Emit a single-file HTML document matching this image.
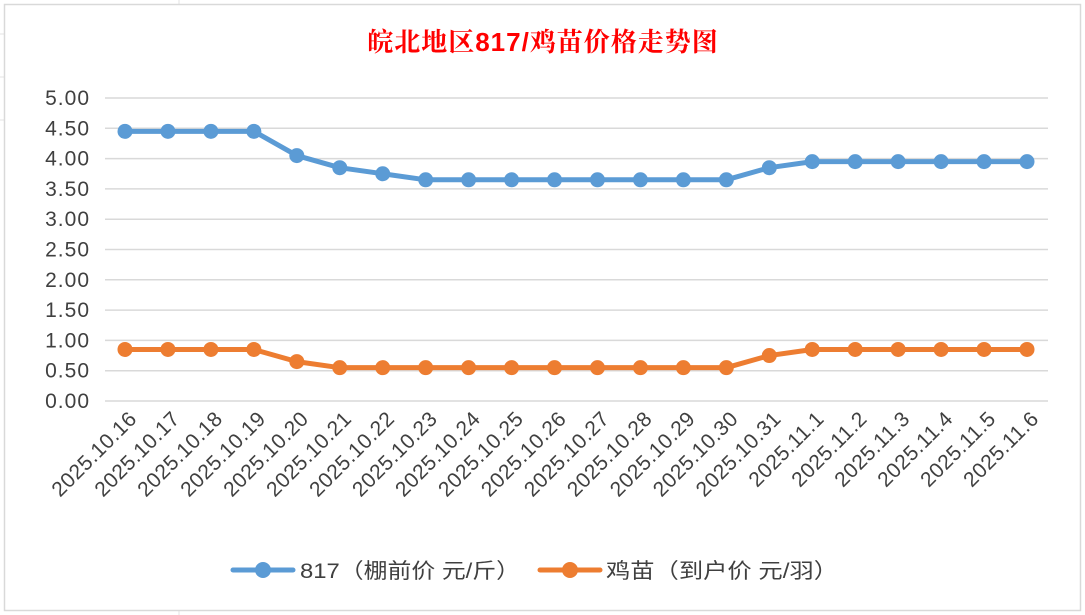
<!DOCTYPE html>
<html><head><meta charset="utf-8"><style>
body{margin:0;background:#fff;}
svg{display:block;font-family:"Liberation Sans","Noto Sans CJK SC",sans-serif;}
</style></head><body>
<svg width="1085" height="615" xmlns="http://www.w3.org/2000/svg">
<rect width="1085" height="615" fill="#fff"/>
<g stroke="#e3e3e3" stroke-width="1">
<line x1="0" x2="4" y1="34" y2="34"/><line x1="0" x2="4" y1="77" y2="77"/><line x1="0" x2="4" y1="120" y2="120"/>
<line x1="179" x2="179" y1="0" y2="4"/><line x1="179" x2="179" y1="611" y2="615"/>
</g>
<rect x="4.5" y="4.5" width="1076" height="606" fill="#fff" stroke="#d9d9d9" stroke-width="1.5"/>
<text x="543" y="51" text-anchor="middle" font-size="26" font-weight="bold" fill="#ff0000" font-family="Liberation Sans,Noto Serif CJK SC,serif" letter-spacing="1">皖北地区817/鸡苗价格走势图</text>
<g id="grid" stroke="#d9d9d9" stroke-width="1.5"></g>
<g id="ylab" font-size="21" fill="#404040" text-anchor="end" letter-spacing="1"></g>
<g id="xlab" font-size="21" fill="#404040" text-anchor="end" letter-spacing="0.5"></g>
<polyline id="b" fill="none" stroke="#5b9bd5" stroke-width="5" stroke-linejoin="round"/>
<polyline id="o" fill="none" stroke="#ed7d31" stroke-width="5" stroke-linejoin="round"/>
<g id="pts"></g>
<line x1="233" x2="293" y1="570" y2="570" stroke="#5b9bd5" stroke-width="5" stroke-linecap="round"/>
<circle cx="263" cy="570" r="8" fill="#5b9bd5"/>
<text x="300" y="578" font-size="21" fill="#404040" textLength="220" lengthAdjust="spacingAndGlyphs">817（棚前价 元/斤）</text>
<line x1="540" x2="600" y1="570" y2="570" stroke="#ed7d31" stroke-width="5" stroke-linecap="round"/>
<circle cx="570" cy="570" r="8" fill="#ed7d31"/>
<text x="606" y="578" font-size="21" fill="#404040" textLength="232" lengthAdjust="spacingAndGlyphs">鸡苗（到户价 元/羽）</text>
</svg>
<script>
var ns="http://www.w3.org/2000/svg";
function el(t,a,p,txt){var e=document.createElementNS(ns,t);for(var k in a)e.setAttribute(k,a[k]);if(txt)e.textContent=txt;document.getElementById(p).appendChild(e);return e;}
function Y(v){return 401-v*60.6;}
for(var k=0;k<=10;k++){var v=k*0.5,y=Y(v);el('line',{x1:105,x2:1048,y1:y,y2:y},'grid');el('text',{x:90,y:y+7},'ylab',v.toFixed(2));}
var d=['2025.10.16','2025.10.17','2025.10.18','2025.10.19','2025.10.20','2025.10.21','2025.10.22','2025.10.23','2025.10.24','2025.10.25','2025.10.26','2025.10.27','2025.10.28','2025.10.29','2025.10.30','2025.10.31','2025.11.1','2025.11.2','2025.11.3','2025.11.4','2025.11.5','2025.11.6'];
var B=[4.45,4.45,4.45,4.45,4.05,3.85,3.75,3.65,3.65,3.65,3.65,3.65,3.65,3.65,3.65,3.85,3.95,3.95,3.95,3.95,3.95,3.95];
var O=[0.85,0.85,0.85,0.85,0.65,0.55,0.55,0.55,0.55,0.55,0.55,0.55,0.55,0.55,0.55,0.75,0.85,0.85,0.85,0.85,0.85,0.85];
var n=B.length;function Xi(i){return 125+i*(1027-125)/(n-1);}
var pb=[],po=[];
for(var i=0;i<n;i++){var x=Xi(i);pb.push(x+','+Y(B[i]));po.push(x+','+Y(O[i]));
el('text',{x:x+13,y:420,transform:'rotate(-45 '+(x+13)+' 420)'},'xlab',d[i]);}
document.getElementById('b').setAttribute('points',pb.join(' '));
document.getElementById('o').setAttribute('points',po.join(' '));
for(var i=0;i<n;i++){el('circle',{cx:Xi(i),cy:Y(B[i]),r:7.5,fill:'#5b9bd5'},'pts');el('circle',{cx:Xi(i),cy:Y(O[i]),r:7.5,fill:'#ed7d31'},'pts');}
</script>
</body></html>
